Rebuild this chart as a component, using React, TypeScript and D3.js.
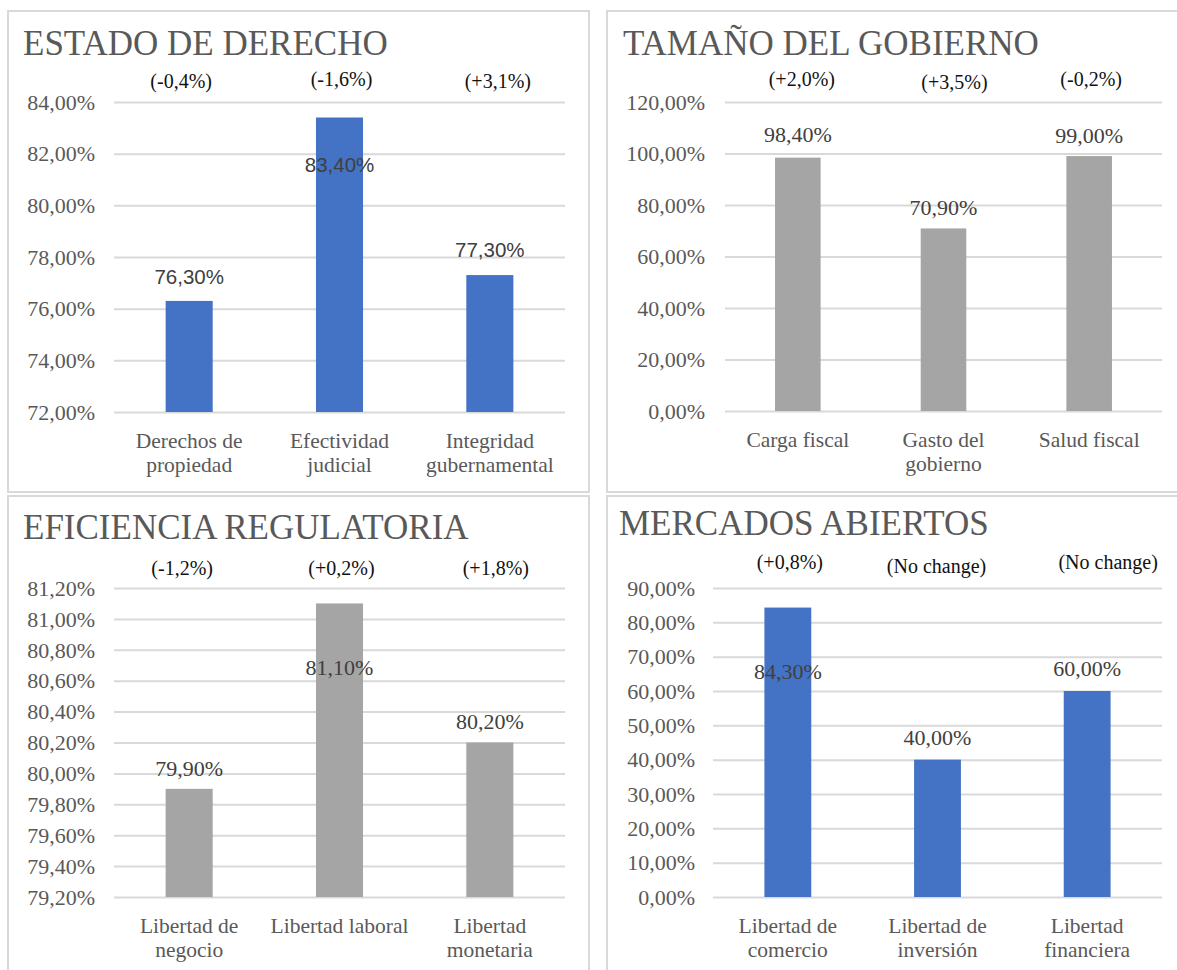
import { useRef, useEffect } from 'react';
import * as d3 from 'd3';

// Estado de derecho
const ruleCategories = ['Derechos de\npropiedad', 'Efectividad\njudicial', 'Integridad\ngubernamental'];
const ruleValues = [76.3, 83.4, 77.3];
const ruleChanges = ['(-0,4%)', '(-1,6%)', '(+3,1%)'];
const ruleTicks = [72, 74, 76, 78, 80, 82, 84];

// Tamaño del gobierno
const govCategories = ['Carga fiscal', 'Gasto del\ngobierno', 'Salud fiscal'];
const govValues = [98.4, 70.9, 99.0];
const govChanges = ['(+2,0%)', '(+3,5%)', '(-0,2%)'];
const govTicks = [0, 20, 40, 60, 80, 100, 120];

// Eficiencia regulatoria
const regCategories = ['Libertad de\nnegocio', 'Libertad laboral', 'Libertad\nmonetaria'];
const regValues = [79.9, 81.1, 80.2];
const regChanges = ['(-1,2%)', '(+0,2%)', '(+1,8%)'];
const regTicks = [79.2, 79.4, 79.6, 79.8, 80.0, 80.2, 80.4, 80.6, 80.8, 81.0, 81.2];

// Mercados abiertos
const mktCategories = ['Libertad de\ncomercio', 'Libertad de\ninversión', 'Libertad\nfinanciera'];
const mktValues = [84.3, 40.0, 60.0];
const mktChanges = ['(+0,8%)', '(No change)', '(No change)'];
const mktTicks = [0, 10, 20, 30, 40, 50, 60, 70, 80, 90];

const BLUE = '#4472C4';
const GRAY = '#A5A5A5';
const SERIF = '"Liberation Serif", "Times New Roman", serif';
const SANS = '"Liberation Sans", Arial, sans-serif';

const pct = (v: number) => d3.format('.2f')(v).replace('.', ',') + '%';

interface Panel {
  title: string;
  categories: string[];
  values: number[];
  changes: string[];
  ticks: number[];
  color: string;
  box: [number, number, number, number];
  titlePos: [number, number];
  plot: { left: number; right: number; top: number; bottom: number };
  labelRight: number;
  valueFont: string;
  valueDy: number[];
  changeY: number[];
  changeDx: number[];
}

const panels: Panel[] = [
  {
    title: 'ESTADO DE DERECHO',
    categories: ruleCategories, values: ruleValues, changes: ruleChanges, ticks: ruleTicks,
    color: BLUE,
    box: [8, 11, 589, 492],
    titlePos: [23, 55],
    plot: { left: 114, right: 565, top: 102, bottom: 412 },
    labelRight: 95,
    valueFont: SANS,
    valueDy: [-24, 47, -25],
    changeY: [81, 79, 81],
    changeDx: [-8, 2, 8],
  },
  {
    title: 'TAMAÑO DEL GOBIERNO',
    categories: govCategories, values: govValues, changes: govChanges, ticks: govTicks,
    color: GRAY,
    box: [607, 11, 1190, 492],
    titlePos: [623, 55],
    plot: { left: 725, right: 1162, top: 102, bottom: 411 },
    labelRight: 705,
    valueFont: SERIF,
    valueDy: [-23, -21, -21],
    changeY: [79, 82, 79],
    changeDx: [4, 11, 2],
  },
  {
    title: 'EFICIENCIA REGULATORIA',
    categories: regCategories, values: regValues, changes: regChanges, ticks: regTicks,
    color: GRAY,
    box: [8, 496, 589, 990],
    titlePos: [23, 539],
    plot: { left: 114, right: 565, top: 588, bottom: 897 },
    labelRight: 95,
    valueFont: SERIF,
    valueDy: [-21, 64, -21],
    changeY: [568, 568, 568],
    changeDx: [-7, 2, 6],
  },
  {
    title: 'MERCADOS ABIERTOS',
    categories: mktCategories, values: mktValues, changes: mktChanges, ticks: mktTicks,
    color: BLUE,
    box: [607, 496, 1190, 990],
    titlePos: [619, 535],
    plot: { left: 713, right: 1162, top: 588, bottom: 897 },
    labelRight: 695,
    valueFont: SERIF,
    valueDy: [64, -22, -23],
    changeY: [562, 566, 562],
    changeDx: [2, -1, 21],
  },
];

export default function App() {
  const svgRef = useRef<SVGSVGElement>(null);

  useEffect(() => {
    if (!svgRef.current) return;
    const svg = d3.select(svgRef.current);
    svg.selectAll('*').remove();

    svg.append('rect').attr('width', 1177).attr('height', 970).attr('fill', '#fff');

    panels.forEach((p) => {
      const g = svg.append('g');
      const [bx0, by0, bx1, by1] = p.box;
      g.append('rect')
        .attr('x', bx0).attr('y', by0)
        .attr('width', bx1 - bx0).attr('height', by1 - by0)
        .attr('fill', '#fff')
        .attr('stroke', '#D9D9D9')
        .attr('stroke-width', 2);

      g.append('text')
        .attr('x', p.titlePos[0]).attr('y', p.titlePos[1])
        .attr('font-family', SERIF)
        .attr('font-size', 35)
        .attr('fill', '#595959')
        .text(p.title);

      const x = d3.scaleBand<string>()
        .domain(p.categories)
        .range([p.plot.left, p.plot.right])
        .paddingInner(0.687)
        .paddingOuter(0.3435);

      const y = d3.scaleLinear()
        .domain([p.ticks[0], p.ticks[p.ticks.length - 1]])
        .range([p.plot.bottom, p.plot.top]);

      // gridlines
      const yAxis = d3.axisLeft(y)
        .tickValues(p.ticks)
        .tickSize(-(p.plot.right - p.plot.left))
        .tickFormat(() => '');
      const grid = g.append('g')
        .attr('transform', `translate(${p.plot.left},0)`)
        .call(yAxis);
      grid.select('.domain').remove();
      grid.selectAll('.tick line').attr('stroke', '#D9D9D9').attr('stroke-width', 2);

      // tick labels
      g.append('g')
        .selectAll('text')
        .data(p.ticks)
        .join('text')
        .attr('x', p.labelRight)
        .attr('y', (d) => y(d))
        .attr('dy', '0.35em')
        .attr('text-anchor', 'end')
        .attr('font-family', SERIF)
        .attr('font-size', 22)
        .attr('fill', '#595959')
        .text((d) => pct(d));

      // bars
      g.append('g')
        .selectAll('rect')
        .data(p.values)
        .join('rect')
        .attr('x', (_, i) => x(p.categories[i])!)
        .attr('y', (d) => y(d))
        .attr('width', x.bandwidth())
        .attr('height', (d) => p.plot.bottom - y(d))
        .attr('fill', p.color);

      // value labels
      g.append('g')
        .selectAll('text')
        .data(p.values)
        .join('text')
        .attr('x', (_, i) => x(p.categories[i])! + x.bandwidth() / 2)
        .attr('y', (d, i) => y(d) + p.valueDy[i])
        .attr('dy', '0.35em')
        .attr('text-anchor', 'middle')
        .attr('font-family', p.valueFont)
        .attr('font-size', p.valueFont === SANS ? 20.5 : 22)
        .attr('fill', '#404040')
        .text((d) => pct(d));

      // change labels
      g.append('g')
        .selectAll('text')
        .data(p.changes)
        .join('text')
        .attr('x', (_, i) => x(p.categories[i])! + x.bandwidth() / 2 + p.changeDx[i])
        .attr('y', (_, i) => p.changeY[i])
        .attr('dy', '0.35em')
        .attr('text-anchor', 'middle')
        .attr('font-family', SERIF)
        .attr('font-size', 20)
        .attr('fill', '#111')
        .text((d) => d);

      // category labels
      p.categories.forEach((c) => {
        const cx = x(c)! + x.bandwidth() / 2;
        const t = g.append('text')
          .attr('text-anchor', 'middle')
          .attr('font-family', SERIF)
          .attr('font-size', 21.5)
          .attr('fill', '#595959');
        c.split('\n').forEach((line, li) => {
          t.append('tspan')
            .attr('x', cx)
            .attr('y', p.plot.bottom + 28 + li * 24)
            .attr('dy', '0.35em')
            .text(line);
        });
      });
    });
  }, []);

  return (
    <div style={{ position: 'absolute', left: 0, top: 0, width: 1177, height: 970, overflow: 'hidden' }}>
      <svg ref={svgRef} width={1177} height={970}></svg>
    </div>
  );
}
